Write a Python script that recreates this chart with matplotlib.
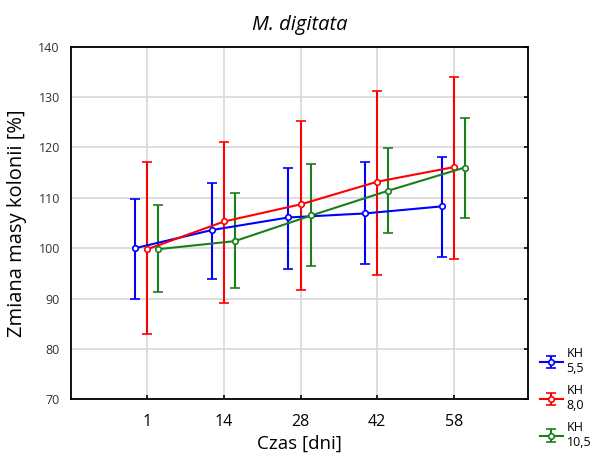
import matplotlib
matplotlib.use("Agg")
import matplotlib.pyplot as plt
import numpy as np

plt.rcParams['font.family'] = ['Open Sans', 'DejaVu Sans']

days = ["1", "14", "28", "42", "58"]
labels = ["KH\n5,5", "KH\n8,0", "KH\n10,5"]
colors = ["#0000ff", "#ff0000", "#1a7f1a"]

mean_55 = [100.0, 103.6, 106.1, 106.9, 108.3]
upper_55 = [109.8, 113.0, 115.9, 117.1, 118.1]
lower_55 = [90.0, 93.9, 95.9, 96.8, 98.3]

mean_80 = [99.8, 105.3, 108.7, 113.2, 116.1]
upper_80 = [117.1, 121.1, 125.2, 131.3, 134.0]
lower_80 = [82.9, 89.2, 91.6, 94.7, 97.9]

mean_105 = [99.8, 101.4, 106.5, 111.4, 116.0]
upper_105 = [108.6, 110.9, 116.7, 119.8, 125.9]
lower_105 = [91.2, 92.0, 96.4, 103.0, 105.9]

series = [(mean_55, upper_55, lower_55), (mean_80, upper_80, lower_80), (mean_105, upper_105, lower_105)]
offsets = [-0.16, 0.0, 0.14]

fig = plt.figure(figsize=(5.96, 4.68), dpi=100)
ax = fig.add_axes([0.119, 0.147, 0.767, 0.753])

x = np.arange(len(days))
for (m, u, l), off, c, lab in zip(series, offsets, colors, labels):
    m = np.array(m); u = np.array(u); l = np.array(l)
    ax.errorbar(x + off, m, yerr=[m - l, u - m], color=c, lw=1.5, capsize=3.5,
                capthick=1.5, marker='o', markersize=4, markerfacecolor='white',
                markeredgecolor=c, markeredgewidth=1.2, label=lab)

ax.set_xlim(-1.0, 4.97)
ax.set_ylim(70, 140)
ax.set_xticks(x)
ax.set_xticklabels(days, fontsize=11.5)
ax.set_yticks(np.arange(70, 141, 10))
ax.tick_params(axis='y', labelsize=9, labelcolor='#333333', left=False, right=True,
               direction='in', length=3, width=1.2, pad=8)
ax.tick_params(axis='x', direction='in', length=3, width=1.2, pad=11)
ax.grid(True, color='#d8d8d8', lw=1.2)
ax.set_axisbelow(True)
for s in ax.spines.values():
    s.set_color('black')
    s.set_linewidth(1.3)

ax.set_title("M. digitata", fontsize=14.5, style='italic', pad=12)
ax.set_xlabel("Czas [dni]", fontsize=13.5, labelpad=3)
ax.set_ylabel("Zmiana masy kolonii [%]", fontsize=14.5, labelpad=8)

leg = fig.legend(loc='lower left', bbox_to_anchor=(0.898, 0.03), frameon=False,
                 fontsize=9, handlelength=1.8, handletextpad=0.3, labelspacing=0.7,
                 borderaxespad=0)

fig.savefig("out.png", dpi=100)
